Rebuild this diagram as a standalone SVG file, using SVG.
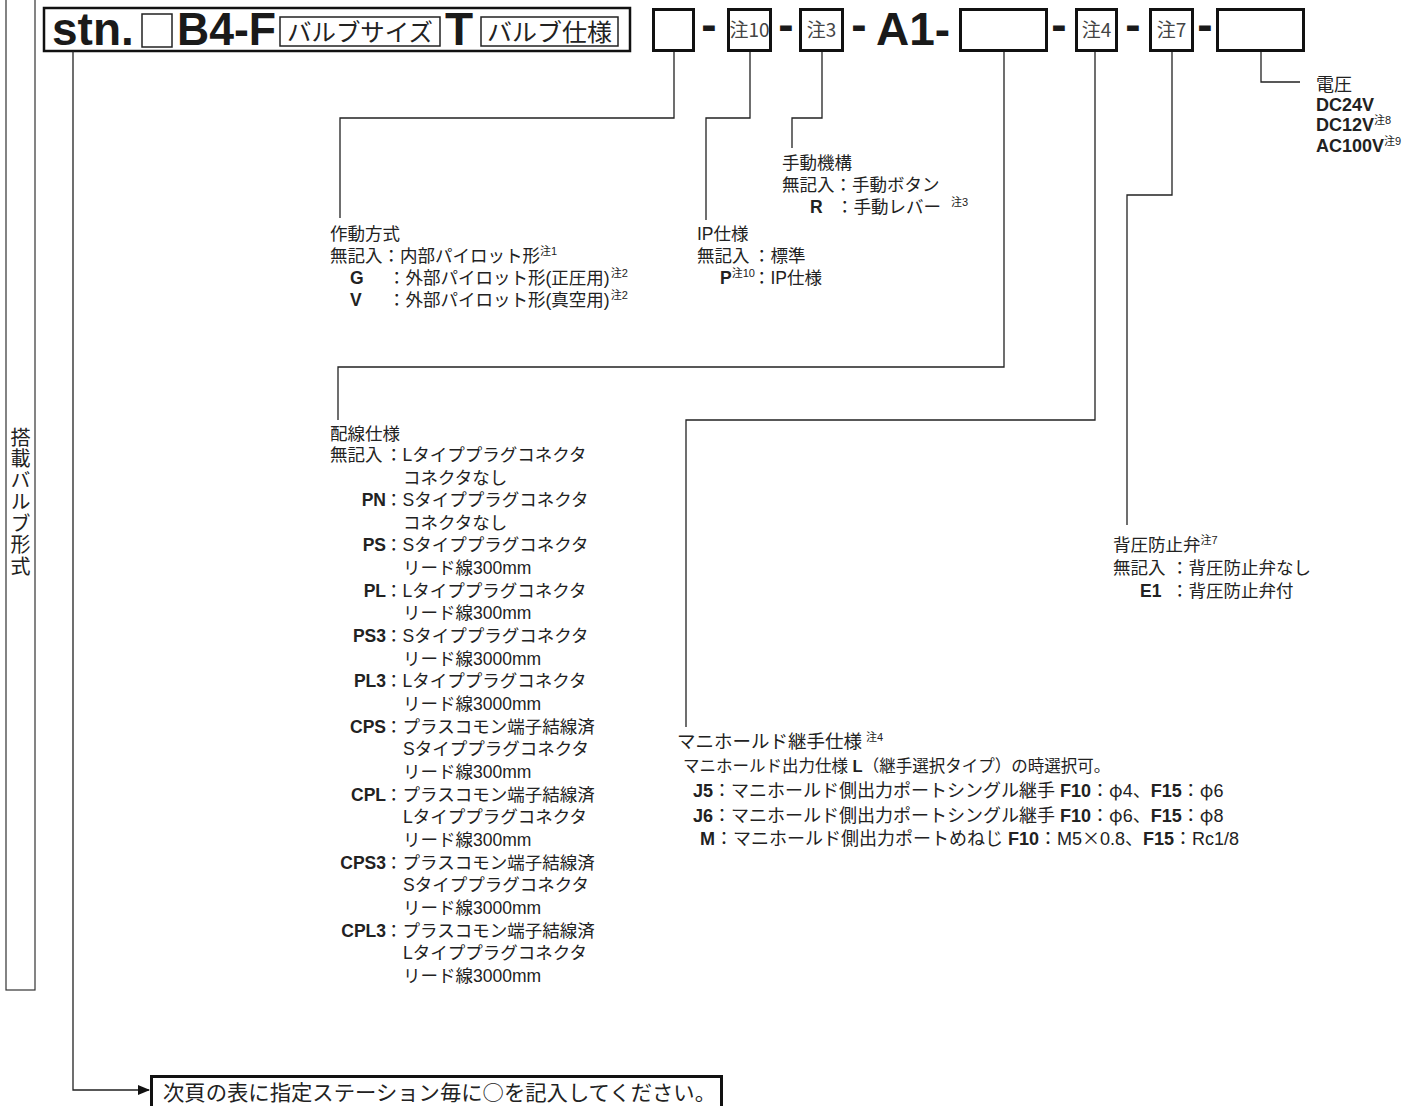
<svg xmlns="http://www.w3.org/2000/svg" width="1424" height="1106" viewBox="0 0 1424 1106">
<style>
.t{font-family:"Liberation Sans","Noto Sans CJK JP",sans-serif;fill:#222;font-size:17.5px}
.j{font-family:"Noto Sans CJK JP","Liberation Sans",sans-serif;fill:#222}
.b{font-weight:bold}
.h{font-family:"Liberation Sans","Noto Sans CJK JP",sans-serif;font-weight:bold;fill:#1a1a1a;font-size:46px}
.s{font-size:11px}
.ln{fill:none;stroke:#222;stroke-width:1.3}
.bx{fill:#fff;stroke:#111;stroke-width:3}
.tb{fill:#fff;stroke:#222;stroke-width:1.5}
.n{font-family:"Noto Sans CJK JP","Liberation Sans",sans-serif;fill:#444;font-size:19px;text-anchor:middle}
</style>
<defs>
<marker id="arr" markerWidth="12" markerHeight="10" refX="11" refY="5" orient="auto" markerUnits="userSpaceOnUse">
<path d="M0,0 L12,5 L0,10 Z" fill="#111"/>
</marker>
</defs>

<g id="side-label">
<rect x="6" y="-2" width="29" height="992" fill="none" stroke="#333" stroke-width="1.2"/>
<text class="j" x="20.5" y="427" font-size="20" letter-spacing="1.5" style="writing-mode:vertical-rl;text-orientation:upright">搭載バルブ形式</text>
</g>

<g id="header">
<rect x="44" y="8" width="586" height="43" fill="none" stroke="#111" stroke-width="2.5"/>
<text class="h" x="52" y="45">stn.</text>
<rect class="tb" x="142" y="14" width="30" height="33"/>
<text class="h" x="177" y="45" textLength="99" lengthAdjust="spacingAndGlyphs">B4-F</text>
<rect class="tb" x="280" y="17" width="160" height="29"/>
<text class="j" x="287" y="41" font-size="24" textLength="146" lengthAdjust="spacingAndGlyphs">バルブサイズ</text>
<text class="h" x="445" y="45">T</text>
<rect class="tb" x="481" y="17" width="137" height="29"/>
<text class="j" x="487" y="41" font-size="24" textLength="125" lengthAdjust="spacingAndGlyphs">バルブ仕様</text>
</g>

<g id="code">
<rect class="bx" x="653.5" y="9.5" width="40" height="41"/>
<text class="h" x="709" y="40" font-size="34" text-anchor="middle">-</text>
<rect class="bx" x="728.5" y="9.5" width="42" height="41"/>
<text class="n" x="749.5" y="37">注10</text>
<text class="h" x="786" y="40" font-size="34" text-anchor="middle">-</text>
<rect class="bx" x="800.5" y="9.5" width="42" height="41"/>
<text class="n" x="821.5" y="37">注3</text>
<text class="h" x="859" y="40" font-size="34" text-anchor="middle">-</text>
<text class="h" x="876" y="45">A1-</text>
<rect class="bx" x="960.5" y="9.5" width="86" height="41"/>
<text class="h" x="1059" y="40" font-size="34" text-anchor="middle">-</text>
<rect class="bx" x="1076.5" y="9.5" width="40" height="41"/>
<text class="n" x="1096.5" y="37">注4</text>
<text class="h" x="1133" y="40" font-size="34" text-anchor="middle">-</text>
<rect class="bx" x="1150.5" y="9.5" width="42" height="41"/>
<text class="n" x="1171.5" y="37">注7</text>
<text class="h" x="1205" y="40" font-size="34" text-anchor="middle">-</text>
<rect class="bx" x="1217.5" y="9.5" width="86" height="41"/>
</g>

<g id="connectors">
<path class="ln" d="M674 52 V118 H340 V218"/>
<path class="ln" d="M750 52 V118 H706 V220"/>
<path class="ln" d="M822 52 V118 H792 V148"/>
<path class="ln" d="M1004 52 V367 H338 V420"/>
<path class="ln" d="M1095 52 V420 H686 V727"/>
<path class="ln" d="M1172 52 V195 H1127 V525"/>
<path class="ln" d="M1261 52 V82 H1300"/>
<path class="ln" d="M73 51 V1090 H149" marker-end="url(#arr)"/>
</g>

<g id="actuation" class="t">
<text x="330" y="240">作動方式</text>
<text x="330" y="262">無記入：内部パイロット形<tspan class="s" dy="-7">注1</tspan></text>
<text class="b" x="350" y="284">G</text>
<text x="388" y="284">：外部パイロット形(正圧用)<tspan class="s" dx="1" dy="-7">注2</tspan></text>
<text class="b" x="350" y="306">V</text>
<text x="388" y="306">：外部パイロット形(真空用)<tspan class="s" dx="1" dy="-7">注2</tspan></text>
</g>

<g id="ip" class="t">
<text x="697" y="240">IP仕様</text>
<text x="697" y="262">無記入</text>
<text x="753" y="262">：標準</text>
<text x="720" y="284"><tspan class="b">P</tspan><tspan class="s" dy="-7">注10</tspan></text>
<text x="753" y="284">：IP仕様</text>
</g>

<g id="manual" class="t">
<text x="782" y="169">手動機構</text>
<text x="782" y="191">無記入：手動ボタン</text>
<text class="b" x="810" y="213">R</text>
<text x="836" y="213">：手動レバー<tspan class="s" dx="10" dy="-7">注3</tspan></text>
</g>

<g id="wiring" class="t">
<text x="330" y="440">配線仕様</text>
<text x="330" y="461">無記入</text>
<text x="385" y="461">：Lタイププラグコネクタ</text>
<text x="403" y="484">コネクタなし</text>
<text class="b" x="386" y="506" text-anchor="end">PN</text>
<text x="385" y="506">：Sタイププラグコネクタ</text>
<text x="403" y="529">コネクタなし</text>
<text class="b" x="386" y="551" text-anchor="end">PS</text>
<text x="385" y="551">：Sタイププラグコネクタ</text>
<text x="403" y="574">リード線300mm</text>
<text class="b" x="386" y="597" text-anchor="end">PL</text>
<text x="385" y="597">：Lタイププラグコネクタ</text>
<text x="403" y="619">リード線300mm</text>
<text class="b" x="386" y="642" text-anchor="end">PS3</text>
<text x="385" y="642">：Sタイププラグコネクタ</text>
<text x="403" y="665">リード線3000mm</text>
<text class="b" x="386" y="687" text-anchor="end">PL3</text>
<text x="385" y="687">：Lタイププラグコネクタ</text>
<text x="403" y="710">リード線3000mm</text>
<text class="b" x="386" y="733" text-anchor="end">CPS</text>
<text x="385" y="733">：プラスコモン端子結線済</text>
<text x="403" y="755">Sタイププラグコネクタ</text>
<text x="403" y="778">リード線300mm</text>
<text class="b" x="386" y="801" text-anchor="end">CPL</text>
<text x="385" y="801">：プラスコモン端子結線済</text>
<text x="403" y="823">Lタイププラグコネクタ</text>
<text x="403" y="846">リード線300mm</text>
<text class="b" x="386" y="869" text-anchor="end">CPS3</text>
<text x="385" y="869">：プラスコモン端子結線済</text>
<text x="403" y="891">Sタイププラグコネクタ</text>
<text x="403" y="914">リード線3000mm</text>
<text class="b" x="386" y="937" text-anchor="end">CPL3</text>
<text x="385" y="937">：プラスコモン端子結線済</text>
<text x="403" y="959">Lタイププラグコネクタ</text>
<text x="403" y="982">リード線3000mm</text>
</g>

<g id="fitting" class="t">
<text x="677" y="748" font-size="18.5">マニホールド継手仕様<tspan class="s" dx="4" dy="-7">注4</tspan></text>
<text x="683" y="772" font-size="16.5">マニホールド出力仕様 <tspan class="b">L</tspan>（継手選択タイプ）の時選択可。</text>
<text x="693" y="797" font-size="18"><tspan class="b">J5</tspan>：マニホールド側出力ポートシングル継手 <tspan class="b">F10</tspan>：<tspan class="j">φ</tspan>4、<tspan class="b">F15</tspan>：<tspan class="j">φ</tspan>6</text>
<text x="693" y="822" font-size="18"><tspan class="b">J6</tspan>：マニホールド側出力ポートシングル継手 <tspan class="b">F10</tspan>：<tspan class="j">φ</tspan>6、<tspan class="b">F15</tspan>：<tspan class="j">φ</tspan>8</text>
<text x="700" y="845" font-size="18"><tspan class="b">M</tspan>：マニホールド側出力ポートめねじ <tspan class="b">F10</tspan>：M5<tspan class="j">×</tspan>0.8、<tspan class="b">F15</tspan>：Rc1/8</text>
</g>

<g id="backpressure" class="t" font-size="18">
<text x="1113" y="551">背圧防止弁<tspan class="s" dy="-7">注7</tspan></text>
<text x="1113" y="574">無記入</text>
<text x="1171" y="574">：背圧防止弁なし</text>
<text class="b" x="1140" y="597">E1</text>
<text x="1171" y="597">：背圧防止弁付</text>
</g>

<g id="voltage" class="t">
<text x="1316" y="91" font-size="18">電圧</text>
<text class="b" x="1316" y="111" font-size="18">DC24V</text>
<text class="b" x="1316" y="131" font-size="18">DC12V<tspan class="s" font-weight="normal" dy="-7">注8</tspan></text>
<text class="b" x="1316" y="152" font-size="18">AC100V<tspan class="s" font-weight="normal" dy="-7">注9</tspan></text>
</g>

<g id="note">
<rect x="151.5" y="1076.5" width="570" height="40" fill="#fff" stroke="#111" stroke-width="3"/>
<text class="j" x="163" y="1100" font-size="21" textLength="553" lengthAdjust="spacingAndGlyphs">次頁の表に指定ステーション毎に○を記入してください。</text>
</g>
</svg>
